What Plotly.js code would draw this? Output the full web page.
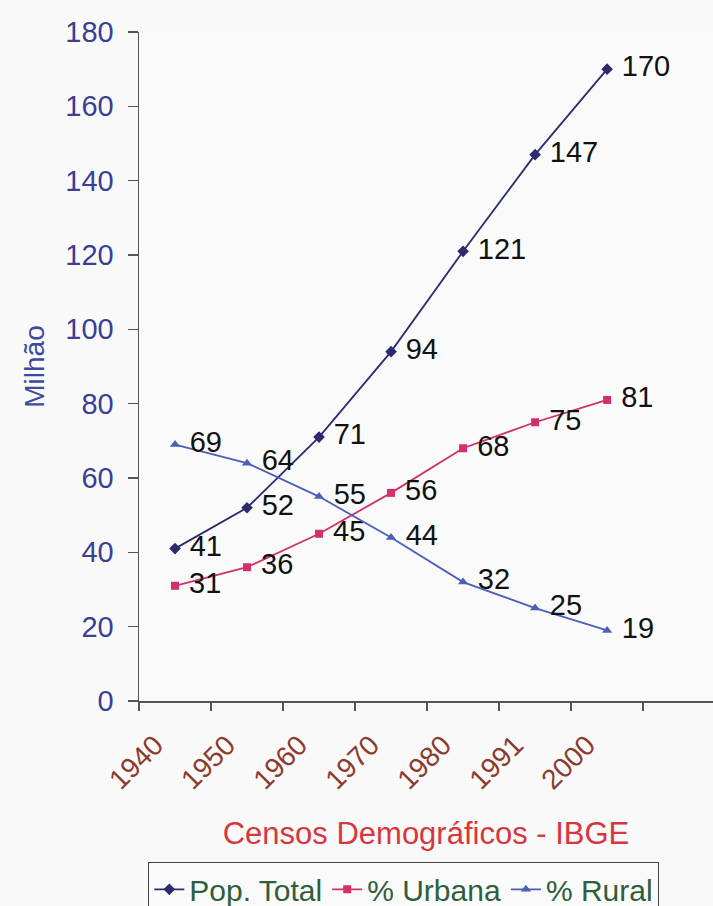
<!DOCTYPE html>
<html>
<head>
<meta charset="utf-8">
<script src="https://cdn.plot.ly/plotly-3.0.1.min.js"></script>
<style>
  html, body { margin: 0; padding: 0; background: #f9f9f9; width: 713px; height: 906px; overflow: hidden; }
  #chart { width: 713px; height: 930px; }
</style>
</head>
<body>
<div id="chart"></div>
<script>
const years = ["1940", "1950", "1960", "1970", "1980", "1991", "2000"];
const popTotal = [41, 52, 71, 94, 121, 147, 170];
const pctUrbana = [31, 36, 45, 56, 68, 75, 81];
const pctRural = [69, 64, 55, 44, 32, 25, 19];
const seriesNames = ["Pop. Total", "% Urbana", "% Rural"];
const yTickVals = [0, 20, 40, 60, 80, 100, 120, 140, 160, 180];
const yGridVals = [20, 40, 60, 80, 100, 120, 140, 160];

const FONT = "Liberation Sans, Arial, sans-serif";
const labelFont = { family: FONT, size: 29, color: "#111111" };

function series(name, vals, color, symbol, msize) {
  return {
    type: "scatter",
    mode: "lines+markers+text",
    name: name,
    x: years,
    y: vals,
    text: vals.map(String),
    texttemplate: " %{text}",
    textposition: "middle right",
    textfont: labelFont,
    line: { color: color, width: 1.8 },
    marker: { color: color, symbol: symbol, size: msize },
    cliponaxis: false,
    hoverinfo: "x+y+name"
  };
}

const data = [
  series(seriesNames[0], popTotal, "#2c2c6c", "diamond", 9),
  series(seriesNames[1], pctUrbana, "#d2306a", "square", 8),
  series(seriesNames[2], pctRural, "#4a5fb8", "triangle-up", 9)
];

// plot area: top 32, bottom 701 (container is taller than the 906px window; the legend box is cut like the original)
const H = 930;
const legendTopPx = 862;
const plotTop = 32, plotBottom = 701;

const layout = {
  width: 713,
  height: H,
  margin: { l: 139, r: 0, t: plotTop, b: H - plotBottom },
  paper_bgcolor: "#f9f9f9",
  plot_bgcolor: "#fafafa",
  showlegend: true,
  font: { family: FONT },
  xaxis: {
    type: "category",
    range: [-0.5, 7.47],
    tickson: "boundaries",
    ticks: "outside",
    ticklen: 8,
    tickcolor: "#555555",
    tickwidth: 1.3,
    showgrid: false,
    zeroline: false,
    showline: true,
    linecolor: "#555555",
    linewidth: 1.5,
    tickangle: -45,
    ticklabelshift: -20,
    ticklabelstandoff: 15,
    tickfont: { family: FONT, size: 28, color: "#8b3a2e" },
    title: {
      text: "Censos Demográficos - IBGE",
      font: { family: FONT, size: 31, color: "#d8363e" },
      standoff: 28
    }
  },
  yaxis: {
    range: [0, 180],
    tickvals: yTickVals,
    ticktext: yTickVals.map(String),
    ticks: "outside",
    ticklen: 10,
    tickcolor: "#555555",
    tickwidth: 1.3,
    ticklabelstandoff: 8,
    showgrid: false,
    zeroline: false,
    showline: true,
    linecolor: "#555555",
    linewidth: 1.5,
    tickfont: { family: FONT, size: 29, color: "#3a3f94" },
    title: {
      text: "Milhão",
      font: { family: FONT, size: 28, color: "#3b4a9c" },
      standoff: 12
    }
  },
  yaxis2: {
    overlaying: "y",
    matches: "y",
    side: "left",
    tickvals: yGridVals,
    showticklabels: false,
    ticks: "",
    showgrid: true,
    gridcolor: "#5c5c5c",
    gridwidth: 1.3,
    zeroline: false,
    showline: false,
    layer: "below traces"
  },
  legend: {
    orientation: "h",
    x: (148 - 139) / (713 - 139),
    xanchor: "left",
    y: (plotBottom - legendTopPx) / (plotBottom - plotTop),
    yanchor: "top",
    bgcolor: "#fafafa",
    bordercolor: "#444444",
    borderwidth: 1.3,
    font: { family: FONT, size: 30, color: "#2f5e3a" },
    itemwidth: 30,
    tracegroupgap: 0
  }
};

Plotly.newPlot("chart", data, layout, { displayModeBar: false, staticPlot: true });
</script>
</body>
</html>
